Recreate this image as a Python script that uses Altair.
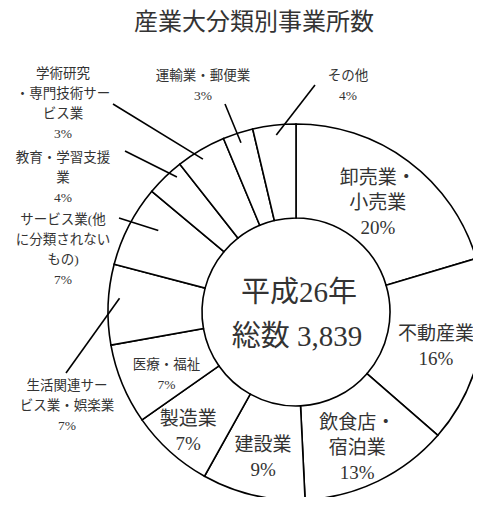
import math
import altair as alt
import pandas as pd

# ---- data ----
title_text = "産業大分類別事業所数"
center_lines = ["平成26年", "総数 3,839"]
categories = ["卸売業・小売業", "不動産業", "飲食店・宿泊業", "建設業", "製造業", "医療・福祉",
              "生活関連サービス業・娯楽業", "サービス業(他に分類されないもの)", "教育・学習支援業",
              "学術研究・専門技術サービス業", "運輸業・郵便業", "その他"]
counts = [783, 614, 493, 340, 276, 265, 265, 269, 127, 165, 100, 142]
pct_labels = ["20%", "16%", "13%", "9%", "7%", "7%", "7%", "7%", "4%", "3%", "3%", "4%"]
label_text = ["卸売業・\n小売業", "不動産業", "飲食店・\n宿泊業", "建設業", "製造業", "医療・福祉",
              "生活関連サー\nビス業・娯楽業", "サービス業(他\nに分類されない\nもの)", "教育・学習支援\n業",
              "学術研究\n・専門技術サー\nビス業", "運輸業・郵便業", "その他"]

# ---- layout (pixels in the plot area) ----
W, H = 465, 489
CX, CY = 288, 304
R_OUT, R_IN = 188, 94
FONT = "Liberation Serif, Noto Sans CJK JP"
TXT = "#333333"
BIG, BIG_LH = 19, 25
SMALL, SMALL_LH = 13.5, 20
# inside labels: index -> (style, radius, angle offset in degrees)
inside = {0: ("big", 136, 0.3), 1: ("big", 144, 1.5), 2: ("big", 149, 1.6),
          3: ("big", 149, -0.4), 4: ("big", 161, 0.0), 5: ("small", 144, -3.4)}
# outside labels: index -> (label x, label y, leader start x, y, leader end radius, angle offset)
outside = {6: (59, 398, 58, 365, 177, 2.2), 7: (55, 242, 111, 210, 160, 3.3),
           8: (55, 170, 117, 143, 180, 2.7), 9: (55, 96, 105, 96, 179, -0.9),
           10: (195, 78, 217, 96, 178, 0.0), 11: (340, 78, 307, 77, 178, 0.3)}

total = sum(counts)
mids = []
acc = 0
for c in counts:
    mids.append((acc + c / 2) / total * 360)
    acc += c


def polar(r, deg):
    a = math.radians(deg)
    return CX + r * math.sin(a), CY - r * math.cos(a)


def block(x, y, t, lh):
    # y is the centre of the whole block; Vega puts the first line at y
    n = t.count("\n") + 1
    return {"x": x, "y": y - (n - 1) * lh / 2, "t": t}


df = pd.DataFrame({"category": categories, "count": counts, "idx": list(range(len(counts)))})

big_rows, small_rows, lead_rows = [], [], []
for i, (style, r, dth) in inside.items():
    x, y = polar(r, mids[i] + dth)
    t = label_text[i] + "\n" + pct_labels[i]
    if style == "big":
        big_rows.append(block(x, y, t, BIG_LH))
    else:
        small_rows.append(block(x, y, t, SMALL_LH))
for i, (lx, ly, sx, sy, er, dth) in outside.items():
    small_rows.append(block(lx, ly, label_text[i] + "\n" + pct_labels[i], SMALL_LH))
    ex, ey = polar(er, mids[i] + dth)
    lead_rows.append({"x1": sx, "y1": sy, "x2": ex, "y2": ey})

arc = alt.Chart(df).mark_arc(radius=R_OUT, radius2=R_IN, fill="white", stroke="black",
                             strokeWidth=1.6).encode(
    theta=alt.Theta("count:Q", stack=True),
    order=alt.Order("idx:Q"),
    x=alt.value(CX), y=alt.value(CY),
)

leaders = alt.Chart(pd.DataFrame(lead_rows)).mark_rule(stroke="black", strokeWidth=1.6).encode(
    x=alt.X("x1:Q", scale=None, axis=None), y=alt.Y("y1:Q", scale=None, axis=None),
    x2="x2:Q", y2="y2:Q")


def text_layer(rows, size, lh):
    return alt.Chart(pd.DataFrame(rows)).mark_text(
        font=FONT, fontSize=size, lineHeight=lh, lineBreak="\n", align="center",
        baseline="middle", color=TXT).encode(
        x=alt.X("x:Q", scale=None, axis=None), y=alt.Y("y:Q", scale=None, axis=None),
        text="t:N")


big = text_layer(big_rows, BIG, BIG_LH)
small = text_layer(small_rows, SMALL, SMALL_LH)
center = text_layer([{"x": 291, "y": 285, "t": center_lines[0]},
                     {"x": 289, "y": 329, "t": center_lines[1]}], 29, 44)
title = text_layer([{"x": 246, "y": 15, "t": title_text}], 24, 30)

chart = alt.layer(arc, leaders, big, small, center, title).properties(
    width=W, height=H, padding=0, autosize="none"
).configure_view(stroke=None)

chart.save("out.html", embed_options={"renderer": "svg", "actions": False})
